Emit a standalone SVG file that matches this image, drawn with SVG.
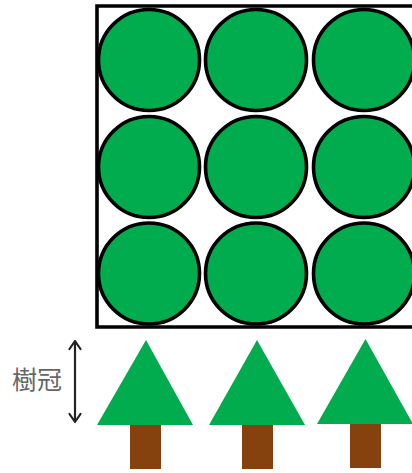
<svg xmlns="http://www.w3.org/2000/svg" width="412" height="473" viewBox="0 0 412 473">
<style>
.crown{fill:#00ac4e;stroke:#000;stroke-width:3.6}
.leaf{fill:#00ac4e}
.trunk{fill:#86420e}
.arrow{fill:none;stroke:#222;stroke-width:2.200;stroke-linecap:round;stroke-linejoin:round}
.label{font-family:"Noto Sans CJK JP","Noto Sans CJK SC",sans-serif;font-size:25px;fill:#666}
</style>
<rect width="412" height="473" fill="#fff"/>
<g id="canopy-plan">
<circle class="crown" cx="149" cy="60" r="50.500"/>
<circle class="crown" cx="256" cy="60" r="50.500"/>
<circle class="crown" cx="364" cy="60" r="50.500"/>
<circle class="crown" cx="149" cy="167" r="50.500"/>
<circle class="crown" cx="256" cy="167" r="50.500"/>
<circle class="crown" cx="364" cy="167" r="50.500"/>
<circle class="crown" cx="149" cy="273.500" r="50.500"/>
<circle class="crown" cx="256" cy="273.500" r="50.500"/>
<circle class="crown" cx="364" cy="273.500" r="50.500"/>
<path d="M414 6H97V327H414" fill="none" stroke="#000" stroke-width="3.6"/>
</g>
<g id="tree-1"><polygon class="leaf" points="146,340 97,425 193,425"/><rect class="trunk" x="130" y="425" width="31" height="44"/></g>
<g id="tree-2"><polygon class="leaf" points="257,340 209,425 305,425"/><rect class="trunk" x="242" y="425" width="31" height="44"/></g>
<g id="tree-3"><polygon class="leaf" points="365.500,339 317,424 413,424"/><rect class="trunk" x="350" y="424" width="31" height="44"/></g>
<g id="connectors"><path class="arrow" d="M75 341V422M69.500 349L75 341L80.500 349M69.500 414L75 422L80.500 414"/></g>
<g id="label"><text class="label" x="12" y="389">樹冠</text></g>
</svg>
